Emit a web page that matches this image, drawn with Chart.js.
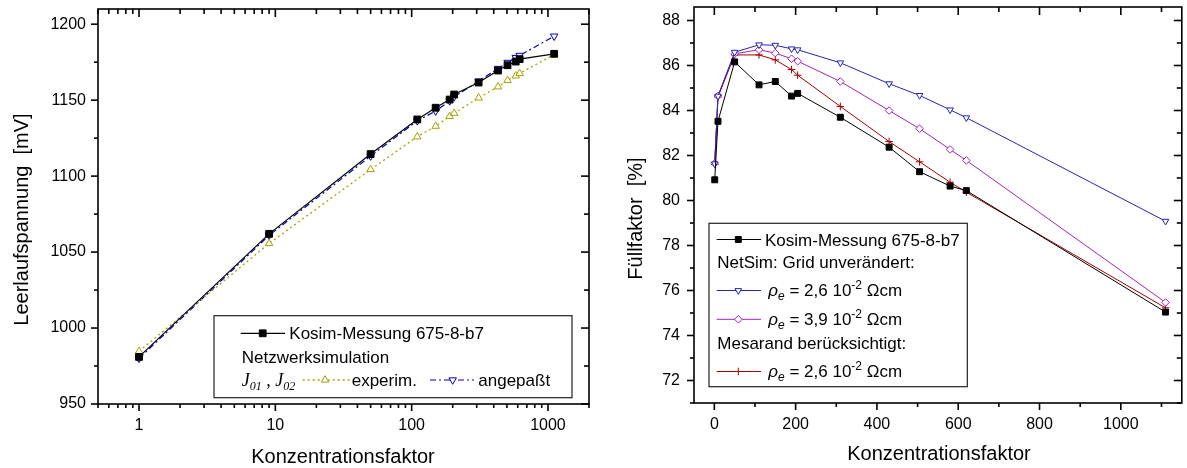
<!DOCTYPE html>
<html>
<head>
<meta charset="utf-8">
<script src="https://cdn.jsdelivr.net/npm/chart.js@4.4.1/dist/chart.umd.min.js"></script>
<style>
  html, body { margin: 0; padding: 0; background: #fff; }
  #wrap { position: relative; width: 1187px; height: 468px; overflow: hidden; }
  #leftBox { position: absolute; left: 0; top: 0; }
  #rightBox { position: absolute; left: 600px; top: 0; }
</style>
</head>
<body>
<div id="wrap">
  <div id="leftBox"><canvas id="vocChart" width="600" height="468"></canvas></div>
  <div id="rightBox"><canvas id="ffChart" width="587" height="468"></canvas></div>
</div>
<script>
// Konzentrationsfaktor (shared by both panels)
const conc = [1, 9, 50, 110, 150, 190, 205, 310, 430, 505, 580, 620, 1110];

// left panel: Leerlaufspannung [mV]
const vocKosim = [981, 1062, 1114.5, 1137.3, 1145, 1150.4, 1153.7, 1161.6, 1169.5, 1173, 1175.4, 1177, 1180.5];
const vocExperim = [984.7, 1055.7, 1104.4, 1125.9, 1132.9, 1139.3, 1141.4, 1151.5, 1158.8, 1163, 1166, 1167.6, 1180];
const vocAngepasst = [980, 1061, 1113.2, 1136.4, 1142.8, 1149.5, 1152.2, 1162.5, 1170.8, 1174.8, 1178, 1179.4, 1192.1];

// right panel: Füllfaktor [%]
const ffKosim = [80.92, 83.52, 86.16, 85.14, 85.29, 84.64, 84.76, 83.7, 82.37, 81.28, 80.64, 80.44, 75.04];
const ffGrid26 = [81.63, 84.64, 86.59, 86.92, 86.9, 86.74, 86.7, 86.12, 85.19, 84.67, 84.03, 83.68, 79.08];
const ffGrid39 = [81.65, 84.65, 86.52, 86.7, 86.55, 86.3, 86.19, 85.29, 84.0, 83.19, 82.27, 81.78, 75.47];
const ffMesa26 = [81.6, 84.6, 86.47, 86.47, 86.25, 85.82, 85.57, 84.18, 82.62, 81.72, 80.81, 80.37, 75.23];

// tick labels
const vocTicksX = [1, 10, 100, 1000];
const vocTicksY = [950, 1000, 1050, 1100, 1150, 1200];
const vocMinorY = [975, 1025, 1075, 1125, 1175];
const ffTicksX = [0, 200, 400, 600, 800, 1000];
const ffMinorX = [100, 300, 500, 700, 900, 1100];
const ffTicksY = [72, 74, 76, 78, 80, 82, 84, 86, 88];
const ffMinorY = [71, 73, 75, 77, 79, 81, 83, 85, 87];

const vocMinorX = [];
[0.1, 1, 10, 100, 1000].forEach(dec => {
  for (let k = 2; k <= 9; k++) {
    const v = +(k * dec).toPrecision(3);
    if (v >= 0.5 && v <= 2000) vocMinorX.push(v);
  }
});

const FONT = 'Arial, "Liberation Sans", Helvetica, sans-serif';
const SERIF = '"Liberation Serif", "Times New Roman", serif';
const OLIVE = '#a3a300';
const BLUE_L = '#0000b0';
const BLUE_R = '#2424b4';
const PURPLE = '#a424b4';
const RED = '#a40000';

const toPoints = ys => conc.map((x, i) => ({ x: x, y: ys[i] }));

function zeroPad(scale) {
  scale.paddingTop = 0;
  scale.paddingBottom = 0;
  scale.paddingLeft = 0;
  scale.paddingRight = 0;
}

function strokeLine(ctx, x1, y1, x2, y2) {
  ctx.beginPath();
  ctx.moveTo(x1, y1);
  ctx.lineTo(x2, y2);
  ctx.stroke();
}

function drawSample(ctx, ds, x1, x2, xm, y) {
  ctx.save();
  ctx.strokeStyle = ds.borderColor;
  ctx.lineWidth = ds.borderWidth;
  ctx.setLineDash(ds.borderDash || []);
  strokeLine(ctx, x1, y, x2, y);
  ctx.setLineDash([]);
  ctx.fillStyle = ds.pointBackgroundColor;
  ctx.strokeStyle = ds.pointBorderColor;
  ctx.lineWidth = ds.pointBorderWidth;
  Chart.helpers.drawPoint(ctx, {
    pointStyle: ds.pointStyle,
    rotation: ds.pointRotation || 0,
    radius: ds.pointRadius,
    borderWidth: ds.pointBorderWidth
  }, xm, y);
  ctx.restore();
}

// writes a run of [text, font, dy] pieces left to right
function drawRich(ctx, x, y, pieces) {
  pieces.forEach(([txt, font, dy]) => {
    ctx.font = font;
    ctx.fillText(txt, x, y + dy);
    x += ctx.measureText(txt).width;
  });
}

function rhoLabel(ctx, x, y, value) {
  drawRich(ctx, x, y, [
    ['\u03C1', 'italic 17px ' + FONT, 0],
    ['e', 'italic 12px ' + FONT, 4],
    [' = ' + value + ' 10', '17px ' + FONT, 0],
    ['-2', '12px ' + FONT, -7],
    [' \u03A9cm', '17px ' + FONT, 0]
  ]);
}

function decorPlugin(cfg) {
  return {
    id: 'decor',
    afterDatasetsDraw(chart) {
      const ctx = chart.ctx;
      const a = chart.chartArea;
      const sx = chart.scales.x;
      const sy = chart.scales.y;
      ctx.save();
      ctx.strokeStyle = '#000';
      ctx.lineWidth = 1.6;

      cfg.xMajor.forEach(v => {
        const p = sx.getPixelForValue(v);
        strokeLine(ctx, p, a.bottom, p, a.bottom + 7);
        strokeLine(ctx, p, a.top, p, a.top + 8);
      });
      cfg.xMinor.forEach(v => {
        const p = sx.getPixelForValue(v);
        strokeLine(ctx, p, a.bottom, p, a.bottom + 4);
        strokeLine(ctx, p, a.top, p, a.top + 5);
      });
      cfg.yMajor.forEach(v => {
        const p = sy.getPixelForValue(v);
        strokeLine(ctx, a.left - 7, p, a.left, p);
        strokeLine(ctx, a.right - 8, p, a.right, p);
      });
      cfg.yMinor.forEach(v => {
        const p = sy.getPixelForValue(v);
        strokeLine(ctx, a.left - 4, p, a.left, p);
        strokeLine(ctx, a.right - 5, p, a.right, p);
      });
      ctx.strokeRect(a.left, a.top, a.right - a.left, a.bottom - a.top);

      // axis titles
      ctx.fillStyle = '#000';
      ctx.font = '20px ' + FONT;
      ctx.textAlign = 'center';
      ctx.textBaseline = 'alphabetic';
      ctx.fillText(cfg.xTitle, cfg.xTitleAt[0], cfg.xTitleAt[1]);
      ctx.save();
      ctx.translate(cfg.yTitleAt[0], cfg.yTitleAt[1]);
      ctx.rotate(-Math.PI / 2);
      ctx.fillText(cfg.yTitle, 0, 0);
      ctx.restore();

      // legend box
      const b = cfg.legendBox;
      ctx.fillStyle = '#fff';
      ctx.fillRect(b[0], b[1], b[2] - b[0], b[3] - b[1]);
      ctx.strokeStyle = '#222';
      ctx.lineWidth = 1.2;
      ctx.strokeRect(b[0], b[1], b[2] - b[0], b[3] - b[1]);
      ctx.fillStyle = '#000';
      ctx.textAlign = 'left';
      cfg.drawLegend(ctx, chart.data.datasets);
      ctx.restore();
    }
  };
}

function baseScales(xOpts, yOpts) {
  const tickFont = { family: FONT, size: 16 };
  return {
    x: Object.assign({
      grid: { display: false, drawTicks: false },
      border: { display: false },
      ticks: { padding: 12, font: tickFont, color: '#000', maxRotation: 0, autoSkip: false, callback: v => String(v) }
    }, xOpts),
    y: Object.assign({
      grid: { display: false, drawTicks: false },
      border: { display: false },
      ticks: { padding: 12, font: { family: FONT, size: 16, lineHeight: 0.8 }, color: '#000', autoSkip: false, callback: v => String(v) }
    }, yOpts)
  };
}

function lineSet(label, ys, color, extra) {
  return Object.assign({
    label: label,
    data: toPoints(ys),
    borderColor: color,
    backgroundColor: color,
    borderWidth: 1,
    pointBorderColor: color,
    pointBackgroundColor: '#fff',
    pointBorderWidth: 1,
    pointRadius: 4,
    pointHoverRadius: 4,
    tension: 0,
    fill: false
  }, extra);
}

// ---------- left: Leerlaufspannung ----------
new Chart(document.getElementById('vocChart'), {
  type: 'line',
  data: {
    datasets: [
      lineSet('Kosim-Messung 675-8-b7', vocKosim, '#000', { borderWidth: 1.2, pointStyle: 'rect', pointRadius: 4.8, pointBackgroundColor: '#000' }),
      lineSet('experim.', vocExperim, OLIVE, { borderWidth: 1.3, borderDash: [2, 3], pointStyle: 'triangle', pointRadius: 4.3 }),
      lineSet('angepa\u00DFt', vocAngepasst, BLUE_L, { borderWidth: 1.2, borderDash: [6, 3, 2, 3], pointStyle: 'triangle', pointRotation: 180, pointRadius: 4.3 })
    ]
  },
  options: {
    responsive: false,
    animation: false,
    events: [],
    layout: { padding: { left: 0, top: 9, right: 11, bottom: 0 } },
    plugins: { legend: { display: false }, tooltip: { enabled: false } },
    scales: baseScales(
      {
        type: 'logarithmic', min: 0.5, max: 2000,
        afterBuildTicks: s => { s.ticks = vocTicksX.map(v => ({ value: v, major: true })); },
        afterFit: s => { s.height = 64; zeroPad(s); }
      },
      {
        type: 'linear', min: 950, max: 1210,
        afterBuildTicks: s => { s.ticks = vocTicksY.map(v => ({ value: v })); },
        afterFit: s => { s.width = 98; zeroPad(s); }
      }
    )
  },
  plugins: [decorPlugin({
    xMajor: vocTicksX, xMinor: vocMinorX, yMajor: vocTicksY, yMinor: vocMinorY,
    xTitle: 'Konzentrationsfaktor', xTitleAt: [343, 463],
    yTitle: 'Leerlaufspannung  [mV]', yTitleAt: [28, 219.5],
    legendBox: [214, 315.7, 572, 397.7],
    drawLegend: (ctx, ds) => {
      drawSample(ctx, ds[0], 240.7, 285, 262.7, 333.3);
      ctx.font = '17px ' + FONT;
      ctx.fillText(ds[0].label, 289.3, 339);
      ctx.fillText('Netzwerksimulation', 241.7, 363.3);
      drawRich(ctx, 241.7, 386, [
        ['J', 'italic 18px ' + SERIF, 0],
        ['01', 'italic 12px ' + SERIF, 4],
        [' , ', 'italic 18px ' + SERIF, 0],
        ['J', 'italic 18px ' + SERIF, 0],
        ['02', 'italic 12px ' + SERIF, 4]
      ]);
      drawSample(ctx, ds[1], 302.7, 350, 325, 380);
      ctx.font = '17px ' + FONT;
      ctx.fillText(ds[1].label, 351.7, 386);
      drawSample(ctx, ds[2], 430, 474, 452.7, 380);
      ctx.font = '17px ' + FONT;
      ctx.fillText(ds[2].label, 478.3, 386);
    }
  })]
});

// ---------- right: Füllfaktor ----------
new Chart(document.getElementById('ffChart'), {
  type: 'line',
  data: {
    datasets: [
      lineSet('Kosim-Messung 675-8-b7', ffKosim, '#000', { pointStyle: 'rect', pointRadius: 4.2, pointBackgroundColor: '#000' }),
      lineSet('2,6', ffGrid26, BLUE_R, { pointStyle: 'triangle', pointRotation: 180, pointRadius: 3.8 }),
      lineSet('3,9', ffGrid39, PURPLE, { pointStyle: 'rectRot', pointRadius: 3.8 }),
      lineSet('2,6', ffMesa26, RED, { pointStyle: 'cross', pointRadius: 3.8 })
    ]
  },
  options: {
    responsive: false,
    animation: false,
    events: [],
    layout: { padding: { left: 0, top: 7, right: 3, bottom: 0 } },
    plugins: { legend: { display: false }, tooltip: { enabled: false } },
    scales: baseScales(
      {
        type: 'linear', min: -50, max: 1150,
        afterBuildTicks: s => { s.ticks = ffTicksX.map(v => ({ value: v })); },
        afterFit: s => { s.height = 65; zeroPad(s); }
      },
      {
        type: 'linear', min: 71, max: 88.6,
        ticks: { padding: 14, font: { family: FONT, size: 16, lineHeight: 0.8 }, color: '#000', autoSkip: false, callback: v => String(v) },
        afterBuildTicks: s => { s.ticks = ffTicksY.map(v => ({ value: v })); },
        afterFit: s => { s.width = 94; zeroPad(s); }
      }
    )
  },
  plugins: [decorPlugin({
    xMajor: ffTicksX, xMinor: ffMinorX, yMajor: ffTicksY, yMinor: ffMinorY,
    xTitle: 'Konzentrationsfaktor', xTitleAt: [339, 459.5],
    yTitle: 'F\u00FCllfaktor  [%]', yTitleAt: [41.7, 218.5],
    legendBox: [109, 223.3, 367.3, 386.7],
    drawLegend: (ctx, ds) => {
      drawSample(ctx, ds[0], 116.7, 161, 138.3, 239.5);
      ctx.font = '17px ' + FONT;
      ctx.fillText(ds[0].label, 165, 246);
      ctx.fillText('NetSim: Grid unver\u00E4ndert:', 117.3, 268.3);
      drawSample(ctx, ds[1], 116.7, 161, 138.3, 290.5);
      rhoLabel(ctx, 168.3, 296, ds[1].label);
      drawSample(ctx, ds[2], 116.7, 161, 138.3, 319.3);
      rhoLabel(ctx, 168.3, 325, ds[2].label);
      ctx.font = '17px ' + FONT;
      ctx.fillText('Mesarand ber\u00FCcksichtigt:', 117.3, 349.3);
      drawSample(ctx, ds[3], 116.7, 161, 138.3, 371.5);
      rhoLabel(ctx, 168.3, 377.3, ds[3].label);
    }
  })]
});
</script>
</body>
</html>
